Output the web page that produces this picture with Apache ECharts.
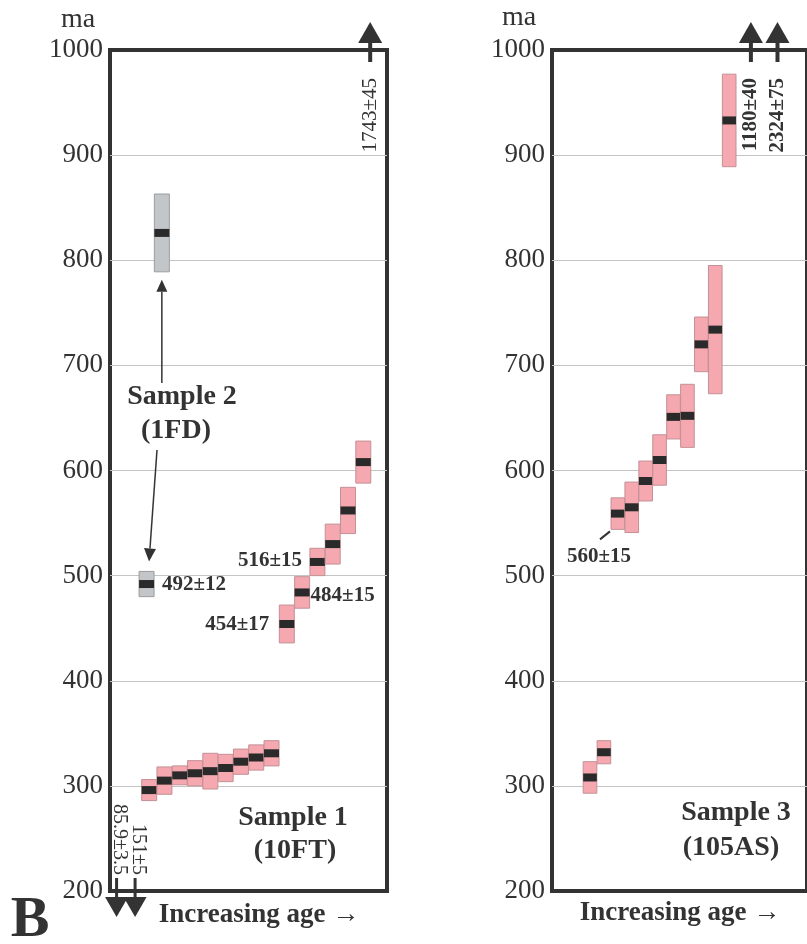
<!DOCTYPE html>
<html><head><meta charset="utf-8">
<script src="https://cdn.jsdelivr.net/npm/echarts@6/dist/echarts.min.js"></script>
<style>html,body{margin:0;padding:0;background:#fff}#c{width:807px;height:944px}</style>
</head><body><div id="c"></div>
<script>
// ---------- DATA ----------
const yTicks = [200, 300, 400, 500, 600, 700, 800, 900, 1000];
const yUnit = 'ma';
const xAxisTitle = 'Increasing age \u2192';

// Sample 1 (10FT) — rank order, age (ma), error
const sample1Rank = [1, 2, 3, 4, 5, 6, 7, 8, 9, 10, 11, 12, 13, 14, 15];
const sample1Age  = [296, 305, 310, 312, 314, 317, 323, 327, 331, 454, 484, 513, 530, 562, 608];
const sample1Err  = [10, 13, 9, 12, 17, 13, 12, 12, 12, 18, 15, 13, 19, 22, 20];
const sample1Label = ['', '', '', '', '', '', '', '', '', '454±17', '484±15', '516±15', '', '', ''];

// Sample 2 (1FD)
const sample2Rank = [0.83, 1.83];
const sample2Age  = [492, 826];
const sample2Err  = [12, 37];
const sample2Label = ['492±12', ''];

// Sample 3 (105AS)
const sample3Rank = [1, 2, 3, 4, 5, 6, 7, 8, 9, 10, 11];
const sample3Age  = [308, 332, 559, 565, 590, 610, 651, 652, 720, 734, 933];
const sample3Err  = [15, 11, 15, 24, 19, 24, 21, 30, 26, 61, 44];
const sample3Label = ['', '', '560±15', '', '', '', '', '', '', '', ''];

// Off-scale ages (arrows)
const s1OffUpRank = [15.45];          const s1OffUpText = ['1743±45'];
const s1OffDownRank = [-1.13, 0.08];  const s1OffDownText = ['85.9±3.5', '151±5'];
const s3OffUpRank = [12.56, 14.47];   const s3OffUpText = ['1180±40', '2324±75'];

const panelTitles = [['Sample 1', '(10FT)'], ['Sample 2', '(1FD)'], ['Sample 3', '(105AS)']];

// ---------- STYLE ----------
const FONT = '"Liberation Serif", "Times New Roman", serif';
const INK = '#333333';
const PINK = '#f5a8af', PINK_EDGE = '#c39096';
const GREY = '#c3c6c9', GREY_EDGE = '#9c9c9c';
const yMin = yTicks[0], yMax = yTicks[yTicks.length - 1];
const LABEL_STYLE = {
  '492±12': {side: 'right', gap: 8, dy: 1},
  '484±15': {side: 'right', gap: 1, dy: 3},
  '454±17': {side: 'left', gap: 10, dy: 1},
  '516±15': {side: 'left', gap: 8, dy: -1},
  '560±15': {side: 'belowLeft'}
};

function labelText(x, y, text, align, opts) {
  return Object.assign({
    type: 'text', x: x, y: y,
    style: {text: text, fontFamily: FONT, fontSize: 21, fontWeight: 'bold', fill: INK,
            align: align, verticalAlign: 'middle'}
  }, opts || {});
}

function boxSeries(g, ranks, ages, errs, labels, fill, stroke) {
  return {
    type: 'custom', xAxisIndex: g, yAxisIndex: g, clip: false, z: 5,
    data: ranks.map((r, i) => [r, ages[i], errs[i]]),
    renderItem(params, api) {
      const r = api.value(0), v = api.value(1), e = api.value(2);
      const tl = api.coord([r - 0.49, v + e]);
      const br = api.coord([r + 0.49, v - e]);
      const m = api.coord([r, v]);
      const w = br[0] - tl[0];
      const ch = [
        {type: 'rect', shape: {x: tl[0], y: tl[1], width: w, height: br[1] - tl[1]},
         style: {fill: fill, stroke: stroke, lineWidth: 1}},
        {type: 'rect', shape: {x: tl[0], y: m[1] - 4, width: w, height: 8},
         style: {fill: '#2a2a2a'}}
      ];
      const lab = labels[params.dataIndex];
      if (lab) {
        const s = LABEL_STYLE[lab];
        if (s.side === 'right') ch.push(labelText(br[0] + s.gap, m[1] + s.dy, lab, 'left'));
        else if (s.side === 'left') ch.push(labelText(tl[0] - s.gap, m[1] + s.dy, lab, 'right'));
        else {
          ch.push({type: 'line', shape: {x1: tl[0] - 11, y1: br[1] + 10, x2: tl[0] - 1, y2: br[1] + 2},
                   style: {stroke: INK, lineWidth: 2}});
          ch.push(labelText(tl[0] - 12, br[1] + 27, lab, 'center'));
        }
      }
      return {type: 'group', children: ch};
    }
  };
}

function offSeries(g, ranks, texts, up, bold) {
  return {
    type: 'custom', xAxisIndex: g, yAxisIndex: g, clip: false, z: 6,
    data: ranks.map(r => [r, up ? yMax : yMin]),
    renderItem(params, api) {
      const p = api.coord([api.value(0), api.value(1)]);
      const x = p[0], y = p[1];
      const t = texts[params.dataIndex];
      const ch = [];
      if (up) {
        ch.push({type: 'line', shape: {x1: x, y1: y + 12, x2: x, y2: y - 8}, style: {stroke: INK, lineWidth: 4}});
        ch.push({type: 'polygon', shape: {points: [[x - 12, y - 7], [x + 12, y - 7], [x, y - 28]]}, style: {fill: INK}});
        ch.push({type: 'text', x: x, y: y + 28, rotation: Math.PI / 2,
          style: {text: t, fontFamily: FONT, fontSize: 21, fontWeight: bold ? 'bold' : 'normal',
                  fill: INK, align: 'right', verticalAlign: 'middle'}});
      } else {
        ch.push({type: 'line', shape: {x1: x, y1: y - 13, x2: x, y2: y + 7}, style: {stroke: INK, lineWidth: 3}});
        ch.push({type: 'polygon', shape: {points: [[x - 11.5, y + 6], [x + 11.5, y + 6], [x, y + 26]]}, style: {fill: INK}});
        ch.push({type: 'text', x: x + 3, y: y - 16, rotation: -Math.PI / 2,
          style: {text: t, fontFamily: FONT, fontSize: 20, fontWeight: 'normal',
                  fill: INK, align: 'right', verticalAlign: 'middle'}});
      }
      return {type: 'group', children: ch};
    }
  };
}

function yAxisOf(g) {
  return {
    gridIndex: g, type: 'value', min: yMin, max: yMax, interval: yTicks[1] - yTicks[0],
    axisLine: {show: false}, axisTick: {show: false},
    axisLabel: {fontFamily: FONT, fontSize: 27, color: INK, margin: 7, formatter: v => String(v)},
    splitLine: {show: true, showMinLine: false, showMaxLine: false, lineStyle: {color: '#c4c4c4', width: 1}}
  };
}

const chart = echarts.init(document.getElementById('c'), null, {renderer: 'canvas'});
chart.setOption({
  animation: false,
  backgroundColor: '#ffffff',
  grid: [
    {left: 110, top: 50, width: 277, height: 841, show: true, borderColor: INK, borderWidth: 4, backgroundColor: 'transparent'},
    {left: 552, top: 50, width: 277, height: 841, show: true, borderColor: INK, borderWidth: 4, backgroundColor: 'transparent'}
  ],
  xAxis: [
    {gridIndex: 0, type: 'value', min: -1.56, max: 16.55, show: false},
    {gridIndex: 1, type: 'value', min: -1.73, max: 16.59, show: false}
  ],
  yAxis: [yAxisOf(0), yAxisOf(1)],
  series: [
    boxSeries(0, sample1Rank, sample1Age, sample1Err, sample1Label, PINK, PINK_EDGE),
    boxSeries(0, sample2Rank, sample2Age, sample2Err, sample2Label, GREY, GREY_EDGE),
    boxSeries(1, sample3Rank, sample3Age, sample3Err, sample3Label, PINK, PINK_EDGE),
    offSeries(0, s1OffUpRank, s1OffUpText, true, false),
    offSeries(0, s1OffDownRank, s1OffDownText, false, false),
    offSeries(1, s3OffUpRank, s3OffUpText, true, true)
  ]
});

// ---------- annotations ----------
function bigText(x, y, text, size, weight, align) {
  return {type: 'text', x: x, y: y, z: 10,
    style: {text: text, fontFamily: FONT, fontSize: size, fontWeight: weight, fill: INK,
            align: align || 'center', verticalAlign: 'middle'}};
}
function arrow(x1, y1, x2, y2, headLen, headHalf) {
  const dx = x2 - x1, dy = y2 - y1, L = Math.hypot(dx, dy);
  const ux = dx / L, uy = dy / L;
  const bx = x2 - ux * headLen, by = y2 - uy * headLen;
  return [
    {type: 'line', z: 10, shape: {x1: x1, y1: y1, x2: bx, y2: by}, style: {stroke: INK, lineWidth: 1.5}},
    {type: 'polygon', z: 10, shape: {points: [[x2, y2], [bx - uy * headHalf, by + ux * headHalf], [bx + uy * headHalf, by - ux * headHalf]]},
     style: {fill: INK}}
  ];
}
const upperBoxBottom = chart.convertToPixel({gridIndex: 0}, [sample2Rank[1], sample2Age[1] - sample2Err[1]]);
const lowerBoxTop = chart.convertToPixel({gridIndex: 0}, [sample2Rank[0], sample2Age[0] + sample2Err[0]]);

const g = [
  bigText(78, 20, yUnit, 28, 'normal'),
  bigText(519, 18, yUnit, 28, 'normal'),
  bigText(182, 397, panelTitles[1][0], 28, 'bold'),
  bigText(176, 431, panelTitles[1][1], 28, 'bold'),
  bigText(293, 818, panelTitles[0][0], 28, 'bold'),
  bigText(295, 851, panelTitles[0][1], 28, 'bold'),
  bigText(736, 813, panelTitles[2][0], 28, 'bold'),
  bigText(731, 848, panelTitles[2][1], 28, 'bold'),
  bigText(259, 915, xAxisTitle, 27, 'bold'),
  bigText(680, 913, xAxisTitle, 27, 'bold'),
  bigText(30, 921, 'B', 58, 'bold')
].concat(
  arrow(upperBoxBottom[0], 383, upperBoxBottom[0], upperBoxBottom[1] + 8, 12, 5.5),
  arrow(157, 450, lowerBoxTop[0] + 2.5, lowerBoxTop[1] - 10, 13, 6)
);
chart.setOption({graphic: g});
</script>
</body></html>
